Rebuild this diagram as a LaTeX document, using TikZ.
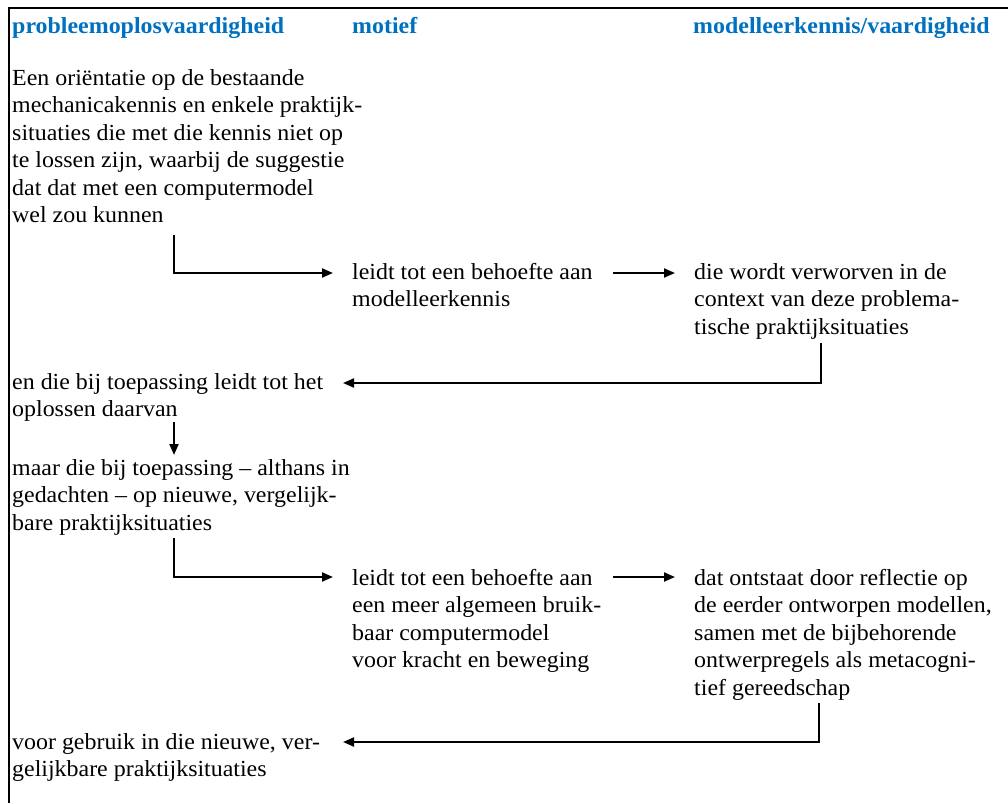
\documentclass[tikz,border=0pt]{standalone}
\usepackage{fontspec}
\setmainfont{Liberation Serif}[FakeStretch=1.04]
\usetikzlibrary{arrows.meta}
\definecolor{hdr}{HTML}{0070C0}
\tikzset{
  txt/.style={anchor=base west, inner sep=0pt, font=\fontsize{23}{27.5}\selectfont},
  hd/.style={anchor=base west, inner sep=0pt, text=hdr, font=\fontsize{23}{27.5}\selectfont\bfseries},
  conn/.style={line width=2.1pt, -{Triangle[length=11pt,width=9pt]}},
  frameline/.style={line width=2.6pt}
}
\newcommand\txtblock[1]{\parbox[t]{420pt}{\raggedright #1}}
\begin{document}
\begin{tikzpicture}[x=1pt,y=-1pt]
\useasboundingbox (0,0) rectangle (1008,803);
% frame
\coordinate (ftr) at (1008,8);
\coordinate (ftl) at (9,8);
\coordinate (fbl) at (9,803);
\draw[frameline] (ftr) -- (ftl) -- (fbl);
% headers
\node[hd] (h1) at (12,33) {probleemoplosvaardigheid};
\node[hd] (h2) at (352,33) {motief};
\node[hd] (h3) at (693,33) {modelleerkennis/vaardigheid};
% text blocks
\node[txt] (b1) at (12,85) {\txtblock{Een oriëntatie op de bestaande\\
mechanicakennis en enkele praktijk-\\
situaties die met die kennis niet op\\
te lossen zijn, waarbij de suggestie\\
dat dat met een computermodel\\
wel zou kunnen}};
\node[txt] (b2) at (352,279) {\txtblock{leidt tot een behoefte aan\\
modelleerkennis}};
\node[txt] (b3) at (694,279) {\txtblock{die wordt verworven in de\\
context van deze problema-\\
tische praktijksituaties}};
\node[txt] (b4) at (12,389) {\txtblock{en die bij toepassing leidt tot het\\
oplossen daarvan}};
\node[txt] (b5) at (12,475) {\txtblock{maar die bij toepassing – althans in\\
gedachten – op nieuwe, vergelijk-\\
bare praktijksituaties}};
\node[txt] (b6) at (352,585) {\txtblock{leidt tot een behoefte aan\\
een meer algemeen bruik-\\
baar computermodel\\
voor kracht en beweging}};
\node[txt] (b7) at (694,585) {\txtblock{dat ontstaat door reflectie op\\
de eerder ontworpen modellen,\\
samen met de bijbehorende\\
ontwerpregels als metacogni-\\
tief gereedschap}};
\node[txt] (b8) at (12,749) {\txtblock{voor gebruik in die nieuwe, ver-\\
gelijkbare praktijksituaties}};
% connector points
\coordinate (a1s) at (174,235);
\coordinate (a1c) at (174,273);
\coordinate (a1e) at (333,273);
\coordinate (a2s) at (613,273);
\coordinate (a2e) at (675,273);
\coordinate (a3s) at (821,343);
\coordinate (a3c) at (821,383);
\coordinate (a3e) at (343,383);
\coordinate (a4s) at (174,422);
\coordinate (a4e) at (174,455);
\coordinate (a5s) at (174,538);
\coordinate (a5c) at (174,577);
\coordinate (a5e) at (333,577);
\coordinate (a6s) at (613,577);
\coordinate (a6e) at (675,577);
\coordinate (a7s) at (819,703);
\coordinate (a7c) at (819,742);
\coordinate (a7e) at (343,742);
% connectors
\draw[conn] (a1s) -- (a1c) -- (a1e);
\draw[conn] (a2s) -- (a2e);
\draw[conn] (a3s) -- (a3c) -- (a3e);
\draw[conn] (a4s) -- (a4e);
\draw[conn] (a5s) -- (a5c) -- (a5e);
\draw[conn] (a6s) -- (a6e);
\draw[conn] (a7s) -- (a7c) -- (a7e);
\end{tikzpicture}
\end{document}
